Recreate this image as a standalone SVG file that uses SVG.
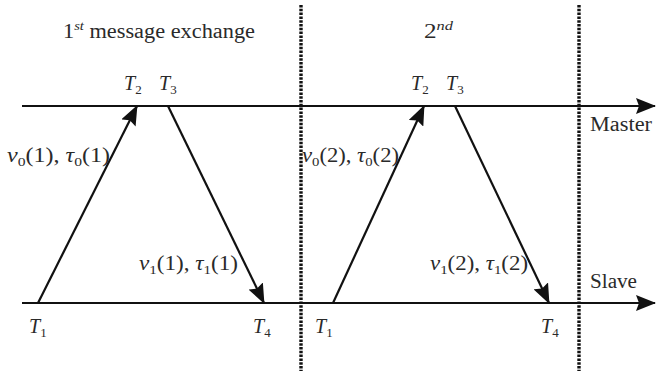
<svg xmlns="http://www.w3.org/2000/svg" width="656" height="377" viewBox="0 0 656 377">
<style>
text{font-family:"Liberation Serif","DejaVu Serif",serif;font-size:20px;fill:#2a2a2a}
.i{font-style:italic}
.s{font-size:13px}
.ln{stroke:#111;stroke-width:2.2;fill:none}
.dv{stroke:#111;stroke-width:3.4;stroke-dasharray:2.5 1.3;fill:none}
</style>
<defs>
<marker id="ah" markerUnits="userSpaceOnUse" markerWidth="20" markerHeight="16" viewBox="0 0 20 16" refX="19" refY="8" orient="auto">
<path d="M0,0 L20,8 L0,16 L3,8 Z" fill="#111"/>
</marker>
</defs>
<rect width="656" height="377" fill="#fff"/>
<g id="dividers">
<line class="dv" x1="301" y1="5" x2="301" y2="371"/>
<line class="dv" x1="579" y1="5" x2="579" y2="371"/>
</g>
<g id="master">
<line class="ln" x1="22" y1="106" x2="655" y2="106" marker-end="url(#ah)"/>
<text x="590" y="131" textLength="62" lengthAdjust="spacingAndGlyphs">Master</text>
</g>
<g id="slave">
<line class="ln" x1="22" y1="303" x2="655" y2="303" marker-end="url(#ah)"/>
<text x="590" y="288" textLength="47" lengthAdjust="spacingAndGlyphs">Slave</text>
</g>
<g id="connectors">
<line class="ln" x1="38" y1="303" x2="137" y2="106" marker-end="url(#ah)"/>
<line class="ln" x1="168" y1="106" x2="264" y2="303" marker-end="url(#ah)"/>
<line class="ln" x1="333" y1="303" x2="424" y2="106" marker-end="url(#ah)"/>
<line class="ln" x1="455" y1="106" x2="549" y2="303" marker-end="url(#ah)"/>
</g>
<g id="labels">
<text x="63" y="38" textLength="192" lengthAdjust="spacingAndGlyphs">1<tspan class="s i" dy="-8">st</tspan><tspan dy="8"> message exchange</tspan></text>
<text x="424" y="38" textLength="29" lengthAdjust="spacingAndGlyphs">2<tspan class="s i" dy="-8">nd</tspan></text>
<text x="124" y="90"><tspan class="i">T</tspan><tspan class="s" dy="4">2</tspan></text>
<text x="159" y="90"><tspan class="i">T</tspan><tspan class="s" dy="4">3</tspan></text>
<text x="411" y="90"><tspan class="i">T</tspan><tspan class="s" dy="4">2</tspan></text>
<text x="446" y="90"><tspan class="i">T</tspan><tspan class="s" dy="4">3</tspan></text>
<text x="29" y="333"><tspan class="i">T</tspan><tspan class="s" dy="4">1</tspan></text>
<text x="253" y="333"><tspan class="i">T</tspan><tspan class="s" dy="4">4</tspan></text>
<text x="315" y="333"><tspan class="i">T</tspan><tspan class="s" dy="4">1</tspan></text>
<text x="541" y="333"><tspan class="i">T</tspan><tspan class="s" dy="4">4</tspan></text>
<text x="7" y="162" textLength="103" lengthAdjust="spacingAndGlyphs"><tspan class="i">v</tspan><tspan class="s" dy="4">0</tspan><tspan dy="-4">(1), </tspan><tspan class="i">τ</tspan><tspan class="s" dy="4">0</tspan><tspan dy="-4">(1)</tspan></text>
<text x="302" y="162" textLength="97" lengthAdjust="spacingAndGlyphs"><tspan class="i">v</tspan><tspan class="s" dy="4">0</tspan><tspan dy="-4">(2), </tspan><tspan class="i">τ</tspan><tspan class="s" dy="4">0</tspan><tspan dy="-4">(2)</tspan></text>
<text x="139" y="270" textLength="99" lengthAdjust="spacingAndGlyphs"><tspan class="i">v</tspan><tspan class="s" dy="4">1</tspan><tspan dy="-4">(1), </tspan><tspan class="i">τ</tspan><tspan class="s" dy="4">1</tspan><tspan dy="-4">(1)</tspan></text>
<text x="430" y="270" textLength="98" lengthAdjust="spacingAndGlyphs"><tspan class="i">v</tspan><tspan class="s" dy="4">1</tspan><tspan dy="-4">(2), </tspan><tspan class="i">τ</tspan><tspan class="s" dy="4">1</tspan><tspan dy="-4">(2)</tspan></text>
</g>
</svg>
